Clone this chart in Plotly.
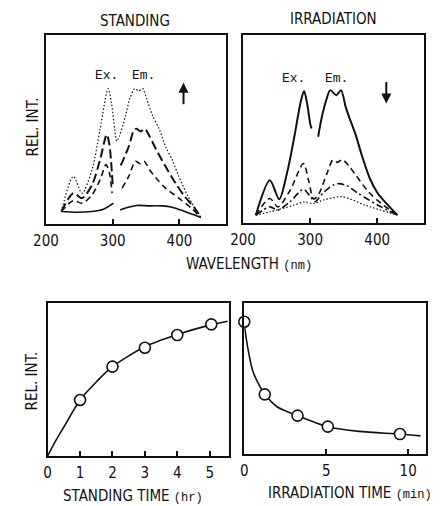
import plotly.graph_objects as go

# ---------------- data ----------------
# Standing (top-left) spectra; None marks the scatter gap near 300-310 nm
STAND_WL_0 = [223, 245, 269, 286, 295, 301, None, 311, 322, 336, 355, 374, 389, 408, 432]
STAND_INT_0 = [0.066, 0.062, 0.066, 0.078, 0.096, 0.11, None, 0.074, 0.087, 0.098, 0.096, 0.096, 0.089, 0.066, 0.035]
STAND_WL_1 = [223, 241, 254, 269, 281, 290, 295, 299, None, 314, 324, 334, 341, 347, 355, 365, 379, 399, 418, 432]
STAND_INT_1 = [0.066, 0.124, 0.11, 0.154, 0.234, 0.314, 0.27, 0.163, None, 0.19, 0.252, 0.332, 0.319, 0.332, 0.287, 0.243, 0.19, 0.137, 0.083, 0.035]
STAND_WL_2 = [223, 241, 254, 269, 281, 291, 295, 300, None, 312, 324, 331, 335, 342, 348, 355, 365, 379, 394, 408, 423, 432]
STAND_INT_2 = [0.066, 0.163, 0.137, 0.207, 0.34, 0.473, 0.42, 0.2, None, 0.31, 0.41, 0.49, 0.504, 0.49, 0.504, 0.465, 0.394, 0.305, 0.216, 0.145, 0.083, 0.035]
STAND_WL_3 = [223, 241, 254, 269, 281, 293, 298, 303, 306, 310, 319, 326, 333, 339, 345, 351, 360, 370, 379, 389, 399, 413, 432]
STAND_INT_3 = [0.066, 0.252, 0.163, 0.287, 0.5, 0.716, 0.642, 0.5, 0.438, 0.465, 0.571, 0.668, 0.716, 0.704, 0.716, 0.66, 0.571, 0.5, 0.411, 0.34, 0.252, 0.145, 0.035]

# Irradiation (top-right) spectra
IRR_WL_0 = [219, 240, 254, 266, 276, 286, 291, 296, 300, 302, None, 312, 317, 324, 330, 339, 346, 353, 358, 368, 377, 389, 401, 416, 430]
IRR_INT_0 = [0.039, 0.225, 0.124, 0.27, 0.447, 0.642, 0.70, 0.624, 0.527, 0.5, None, 0.456, 0.553, 0.65, 0.704, 0.677, 0.704, 0.615, 0.562, 0.465, 0.358, 0.234, 0.154, 0.092, 0.039]
IRR_WL_1 = [219, 240, 252, 270, 290, 298, 305, 312, 325, 334, 341, 348, 358, 368, 387, 406, 430]
IRR_INT_1 = [0.039, 0.128, 0.083, 0.17, 0.314, 0.22, 0.125, 0.145, 0.26, 0.332, 0.32, 0.335, 0.30, 0.252, 0.163, 0.101, 0.039]
IRR_WL_2 = [219, 240, 252, 270, 290, 300, 307, 320, 335, 343, 355, 372, 401, 430]
IRR_INT_2 = [0.039, 0.083, 0.066, 0.11, 0.177, 0.14, 0.11, 0.16, 0.2, 0.207, 0.195, 0.154, 0.092, 0.039]
IRR_WL_3 = [219, 240, 276, 292, 305, 320, 348, 382, 430]
IRR_INT_3 = [0.039, 0.057, 0.092, 0.11, 0.10, 0.12, 0.137, 0.092, 0.039]

# Time courses
STAND_TIME_PTS = [1, 2, 3, 4, 5.05]
STAND_INT_PTS = [0.367, 0.585, 0.709, 0.792, 0.862]
STAND_TIME_CURVE = [0, 0.25, 0.5, 1, 1.5, 2, 3, 4, 5, 5.55]
STAND_INT_CURVE = [0, 0.1, 0.19, 0.367, 0.485, 0.585, 0.715, 0.795, 0.857, 0.882]

IRR_TIME_PTS = [0, 1.25, 3.25, 5.1, 9.5]
IRR_INT_PTS = [0.878, 0.397, 0.256, 0.183, 0.134]
IRR_TIME_CURVE = [0, 0.2, 0.5, 0.9, 1.25, 2, 3.25, 5.1, 7, 9.5, 10.75]
IRR_INT_CURVE = [0.86, 0.713, 0.558, 0.459, 0.397, 0.315, 0.256, 0.183, 0.152, 0.134, 0.122]

WL_TICKS = [200, 300, 400]
STAND_TICKS = [0, 1, 2, 3, 4, 5]
IRR_TICKS = [0, 5, 10]

# ---------------- styling ----------------
W, H = 441, 506
SANS = "Liberation Sans Narrow, DejaVu Sans Condensed, Arial Narrow, sans-serif"
MONO = "Liberation Mono, Courier New, DejaVu Sans Mono, monospace"
INK = "#111111"


def px(xp):
    return xp / W


def py(yp):
    return 1 - yp / H


fig = go.Figure()


def line(x, y, xa, ya, dash, width):
    fig.add_trace(go.Scatter(
        x=x, y=y, xaxis=xa, yaxis=ya, mode="lines", connectgaps=False,
        line=dict(color=INK, width=width, dash=dash, shape="spline", smoothing=0.8),
        showlegend=False, hoverinfo="skip"))


line(STAND_WL_0, STAND_INT_0, "x", "y", "solid", 1.6)
line(STAND_WL_1, STAND_INT_1, "x", "y", "6px,4px", 1.6)
line(STAND_WL_2, STAND_INT_2, "x", "y", "9px,4px", 2.0)
line(STAND_WL_3, STAND_INT_3, "x", "y", "1.5px,2px", 1.2)

line(IRR_WL_0, IRR_INT_0, "x2", "y2", "solid", 2)
line(IRR_WL_1, IRR_INT_1, "x2", "y2", "6px,4px", 1.6)
line(IRR_WL_2, IRR_INT_2, "x2", "y2", "7px,3px,2px,3px", 1.6)
line(IRR_WL_3, IRR_INT_3, "x2", "y2", "1.5px,2px", 1.2)

line(STAND_TIME_CURVE, STAND_INT_CURVE, "x3", "y3", "solid", 1.6)
line(IRR_TIME_CURVE, IRR_INT_CURVE, "x4", "y4", "solid", 1.6)

for xs, ys, xa, ya in [(STAND_TIME_PTS, STAND_INT_PTS, "x3", "y3"),
                       (IRR_TIME_PTS, IRR_INT_PTS, "x4", "y4")]:
    fig.add_trace(go.Scatter(
        x=xs, y=ys, xaxis=xa, yaxis=ya, mode="markers", cliponaxis=False,
        marker=dict(symbol="circle", size=11, color="white", line=dict(color=INK, width=1.6)),
        showlegend=False, hoverinfo="skip"))

tickfont = dict(family=SANS, size=15, color=INK)


def xax(domain, rng, ticks, anchor):
    return dict(domain=domain, range=rng, anchor=anchor, showline=True, mirror=True,
                linecolor=INK, linewidth=2, ticks="inside", ticklen=5, tickwidth=1.5,
                tickcolor=INK, tickvals=ticks, ticktext=[str(t) for t in ticks],
                tickfont=tickfont, showgrid=False, zeroline=False, ticklabelstandoff=2,
                fixedrange=True)


def yax(domain, anchor):
    return dict(domain=domain, range=[0, 1], anchor=anchor, showline=True, mirror=True,
                linecolor=INK, linewidth=2, ticks="", showticklabels=False,
                showgrid=False, zeroline=False, fixedrange=True)


fig.update_layout(
    width=W, height=H, autosize=False,
    margin=dict(l=0, r=0, t=0, b=0),
    paper_bgcolor="white", plot_bgcolor="white",
    xaxis=xax([px(34), px(219)], [200, 469], WL_TICKS, "y"),
    yaxis=yax([py(224), py(35)], "x"),
    xaxis2=xax([px(237), px(423)], [200, 469], WL_TICKS, "y2"),
    yaxis2=yax([py(222.5), py(34.5)], "x2"),
    xaxis3=xax([px(35.7), px(222.7)], [0, 5.6], STAND_TICKS, "y3"),
    yaxis3=yax([py(456), py(303.3)], "x3"),
    xaxis4=xax([px(238.3), px(425.7)], [0, 11.1], IRR_TICKS, "y4"),
    yaxis4=yax([py(454.3), py(303.3)], "x4"),
)

ann = []


def text(t, x, y, size=15, angle=0, family=SANS):
    ann.append(dict(text=t, x=px(x), y=py(y), xref="paper", yref="paper", showarrow=False,
                    xanchor="center", yanchor="middle", textangle=angle,
                    font=dict(family=family, size=size, color=INK)))


SMALL = "<span style='font-family:Liberation Mono;font-size:12px'>"
text("STANDING", 126, 21)
text("IRRADIATION", 330, 19)
text("REL. INT.", 21, 127, angle=-90)
text("REL. INT.", 20, 381, angle=-90)
text("WAVELENGTH " + SMALL + "(nm)</span>", 243, 264)
text("STANDING TIME " + SMALL + "(hr)</span>", 124, 496)
text("IRRADIATION TIME " + SMALL + "(min)</span>", 347, 493)

for xa, ya, xe, xm, yl in [("x", "y", 290.4, 346.6, 0.787), ("x2", "y2", 275.8, 338.6, 0.766)]:
    for t, xv in [("Ex.", xe), ("Em.", xm)]:
        ann.append(dict(text=t, x=xv, y=yl, xref=xa, yref=ya, showarrow=False,
                        font=dict(family=MONO, size=13, color=INK)))

# direction arrows
ann.append(dict(text="", x=406, y=0.748, xref="x", yref="y", ax=0, ay=23, showarrow=True,
                arrowhead=2, arrowsize=1, arrowwidth=2, arrowcolor=INK))
ann.append(dict(text="", x=413.5, y=0.633, xref="x2", yref="y2", ax=0, ay=-23, showarrow=True,
                arrowhead=2, arrowsize=1, arrowwidth=2, arrowcolor=INK))

fig.update_layout(annotations=ann)
fig.write_html("out.html")
